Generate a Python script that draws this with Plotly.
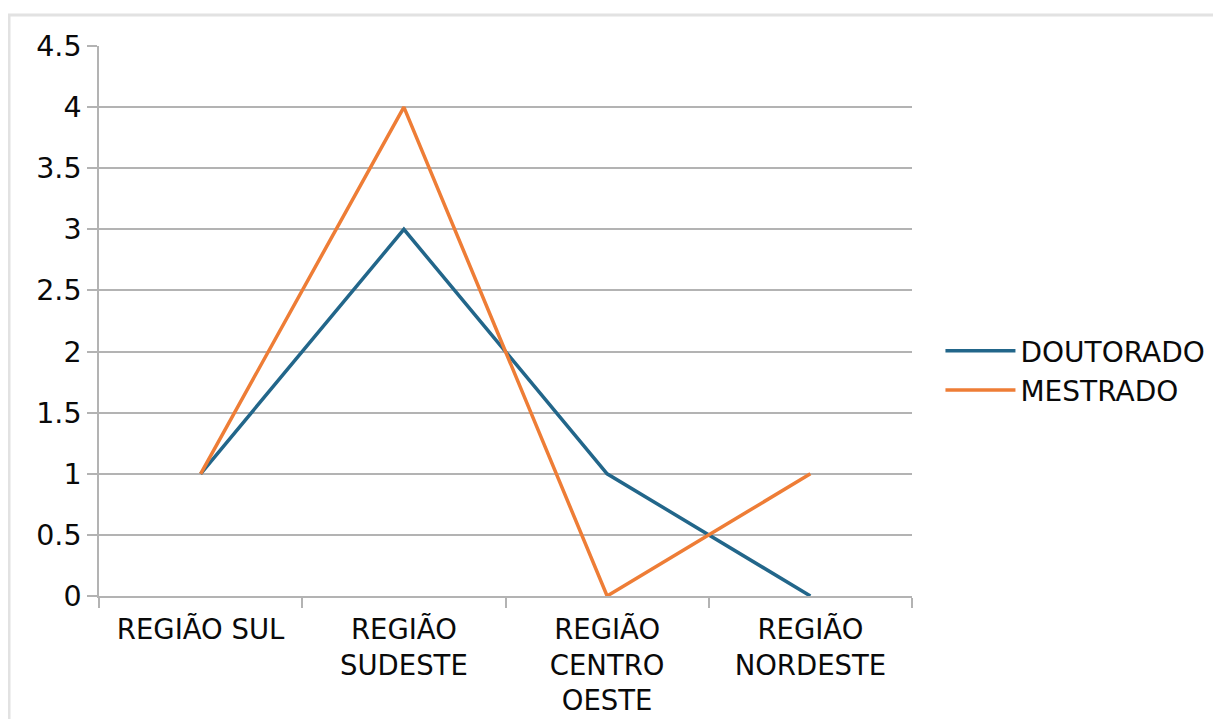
import plotly.graph_objects as go

categories = ["REGIÃO SUL", "REGIÃO<br>SUDESTE", "REGIÃO<br>CENTRO<br>OESTE", "REGIÃO<br>NORDESTE"]
doutorado = [1, 3, 1, 0]
mestrado = [1, 4, 0, 1]
y_ticks = [0, 0.5, 1, 1.5, 2, 2.5, 3, 3.5, 4, 4.5]
y_tick_text = ["0", "0.5", "1", "1.5", "2", "2.5", "3", "3.5", "4", "4.5"]

BLUE = "#22668a"
ORANGE = "#ee7d36"
GRID = "#b3b3b3"
FONT = "DejaVu Sans"
TXT = "#0a0a0a"

fig = go.Figure()
fig.add_trace(go.Scatter(x=categories, y=doutorado, mode="lines", name="DOUTORADO",
                         line=dict(color=BLUE, width=3.5)))
fig.add_trace(go.Scatter(x=categories, y=mestrado, mode="lines", name="MESTRADO",
                         line=dict(color=ORANGE, width=3.5)))

# page offset of 8px (body margin)
OFF = 8
W, H = 1221 - OFF, 719 - OFF
L, T = 99 - OFF, 46 - OFF
pw, ph = 813, 550
R = W - L - pw
B = H - T - ph

fig.update_layout(
    width=W, height=H,
    margin=dict(l=L, r=R, t=T, b=B, autoexpand=False),
    paper_bgcolor="white", plot_bgcolor="white",
    font=dict(family=FONT, size=28, color=TXT),
    showlegend=True,
    legend=dict(x=1.035, y=0.41, xanchor="left", yanchor="middle",
                font=dict(family=FONT, size=28, color=TXT),
                itemwidth=70, tracegroupgap=0, bgcolor="rgba(0,0,0,0)"),
    xaxis=dict(type="category", tickson="boundaries", range=[-0.5, 3.5],
               showgrid=False, showline=True, linecolor=GRID, linewidth=1.5,
               ticks="outside", ticklen=10, tickcolor=GRID, tickwidth=1.5,
               ticklabelstandoff=8, automargin=False,
               tickfont=dict(family=FONT, size=27.5, color=TXT),
               zeroline=False, fixedrange=True),
    yaxis=dict(range=[0, 4.5], tickmode="array", tickvals=y_ticks, ticktext=y_tick_text,
               showgrid=True, gridcolor=GRID, gridwidth=1.5,
               showline=True, linecolor=GRID, linewidth=1.5,
               ticks="outside", ticklen=10, tickcolor=GRID, tickwidth=1.5,
               automargin=False,
               tickfont=dict(family=FONT, size=28.5, color=TXT),
               zeroline=False, fixedrange=True),
)

# light page frame visible in the reference (top and left edges)
x0 = (9 - OFF - L) / pw
x1 = (W + 5 - L) / pw
y0 = (H - B - (H + 5)) / ph
y1 = (H - B - (15 - OFF)) / ph
fig.add_shape(type="path", xref="paper", yref="paper",
              path=f"M {x0} {y0} L {x0} {y1} L {x1} {y1}",
              line=dict(color="#e2e2e2", width=3), layer="below")

fig.write_html("out.html")
